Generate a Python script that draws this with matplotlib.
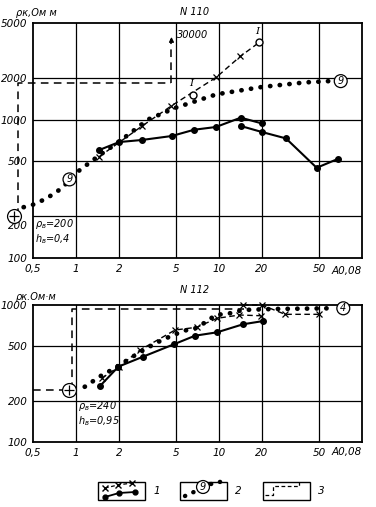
import matplotlib.pyplot as plt
from matplotlib.patches import Rectangle
from matplotlib.transforms import ScaledTranslation

W, H = 376, 507

# N 110
x_cross_110 = [1.45, 2.9, 4.65, 9.6, 14.1]
rho_cross_110 = [540, 900, 1260, 2030, 2870]
x_open_110 = [19.1, 6.6]
rho_open_110 = [3620, 1510]
x_solid_110a = [1.45, 2.0, 2.88, 4.67, 6.7, 9.5, 14.2, 19.9]
rho_solid_110a = [603, 689, 713, 762, 846, 885, 1034, 940]
x_solid_110b = [14.2, 19.9, 29.4, 48.2, 68.3]
rho_solid_110b = [900, 815, 732, 449, 522]
x_dot_110 = [0.43, 0.5, 0.62, 0.79, 1.04, 1.45, 2.0, 3.2, 5.0, 9.6, 20, 40, 63]
rho_dot_110 = [233, 243, 269, 318, 425, 551, 693, 1005, 1222, 1525, 1725, 1860, 1907]
x_step_110 = [0.39, 0.39, 4.65]
rho_step_110 = [200, 1850, 1850]
rho_arrow_110 = 4150

# N 112
x_solid_112 = [1.47, 1.98, 2.95, 4.84, 6.8, 9.7, 14.7, 20.4]
rho_solid_112 = [256, 355, 420, 517, 597, 632, 723, 764]
x_cross_112a = [1.51, 2.0, 2.8, 4.93, 7.0, 9.7, 13.9, 19.6]
rho_cross_112a = [292, 355, 469, 657, 688, 800, 845, 835]
x_cross_112b = [14.7, 19.9, 29, 50]
rho_cross_112b = [1000, 1000, 855, 855]
x_dot_112 = [1.15, 1.5, 1.82, 2.45, 3.04, 3.87, 4.79, 5.95, 7.0, 9.5, 11.9, 14.7, 23.9, 60]
rho_dot_112 = [253, 305, 341, 415, 477, 546, 604, 657, 680, 845, 870, 920, 935, 946]
x_step_112 = [0.5, 0.93, 0.93, 15]
rho_step_112 = [240, 240, 940, 940]

xticks = [0.5, 1, 2, 5, 10, 20, 50]
xlabels = ['0,5', '1', '2', '5', '10', '20', '50']

FS = 7.5
DASH = (0, (5, 3.5))
DOTS = (0, (0.05, 2.0))


def fx(px):
    return px / W


def fy(py):
    return 1 - py / H


def setup(ax, ymax, yticks):
    ax.set_xscale('log')
    ax.set_yscale('log')
    ax.set_xlim(0.5, 100)
    ax.set_ylim(100, ymax)
    ax.set_xticks(xticks)
    ax.set_xticklabels(xlabels, fontsize=FS, style='italic')
    ax.set_yticks(yticks)
    ax.set_yticklabels([str(v) for v in yticks], fontsize=FS, style='italic')
    ax.minorticks_off()
    ax.tick_params(length=0, pad=4)
    for v in xticks[1:]:
        ax.axvline(v, color='black', lw=0.9)
    for v in yticks[1:-1]:
        ax.axhline(v, color='black', lw=0.9)
    for s in ax.spines.values():
        s.set_linewidth(1.3)
    ax.text(1.0, -0.035, 'A0,08', transform=ax.transAxes, ha='right', va='top',
            fontsize=FS, style='italic')


def circ_label(ax, x, y, t):
    ax.text(x, y, t, ha='center', va='center', fontsize=7, style='italic',
            bbox=dict(boxstyle='circle,pad=0.15', fc='white', ec='black', lw=0.9),
            zorder=6, clip_on=False)


def plus_circle(ax, x, y):
    ax.plot([x], [y], 'o', ms=10, mfc='white', mec='black', mew=0.9,
            clip_on=False, zorder=6)
    ax.plot([x], [y], '+', ms=7, color='black', mew=0.9, clip_on=False, zorder=7)


fig = plt.figure(figsize=(W / 100, H / 100), dpi=100)

# ---- N 110
ax1 = fig.add_axes([fx(33), fy(258), fx(329), 235 / H])
setup(ax1, 5000, [100, 200, 500, 1000, 2000, 5000])
# the "200" label sits a little below its grid line
lab200 = ax1.get_yticklabels()[1]
lab200.set_transform(lab200.get_transform() + ScaledTranslation(0, -0.09, fig.dpi_scale_trans))
ax1.plot(x_step_110, rho_step_110, color='black', lw=1.1, ls=DASH, clip_on=False)
ax1.plot([x_step_110[-1]] * 2, [rho_step_110[-1], rho_arrow_110 * 0.93],
         color='black', lw=1.1, ls=DASH)
ax1.annotate('', xy=(x_step_110[-1], rho_arrow_110),
             xytext=(x_step_110[-1], rho_arrow_110 * 0.85),
             arrowprops=dict(arrowstyle='-|>', color='black', lw=0.9,
                             mutation_scale=7))
ax1.text(5.1, rho_arrow_110 * 0.98, '30000', fontsize=7, style='italic',
         ha='left', va='center')
ax1.plot(x_dot_110, rho_dot_110, color='black', lw=3.4, ls=DOTS,
         dash_capstyle='round', clip_on=False, zorder=4)
ax1.plot(x_cross_110 + [x_open_110[0]], rho_cross_110 + [rho_open_110[0]],
         color='black', lw=1.0, ls=(0, (4, 2.5)), zorder=3)
ax1.plot(x_cross_110, rho_cross_110, 'x', color='black', ms=4.5, mew=0.9, zorder=5)
ax1.plot(x_open_110, rho_open_110, 'o', ms=5, mfc='white', mec='black', mew=1.0, zorder=5)
for xo, yo in zip(x_open_110, rho_open_110):
    ax1.text(xo * 0.97, yo * 1.12, 'I', fontsize=7.5, style='italic',
             family='serif', ha='center', va='bottom')
ax1.plot(x_solid_110a, rho_solid_110a, '-o', color='black', lw=1.5, ms=4, zorder=5)
ax1.plot(x_solid_110b, rho_solid_110b, '-o', color='black', lw=1.5, ms=4, zorder=5)
circ_label(ax1, 0.9, 370, '9')
circ_label(ax1, 71, 1900, '9')
plus_circle(ax1, 0.37, 200)
ax1.text(0.52, 175, r'$\rho_в$=200', fontsize=7, style='italic', va='center')
ax1.text(0.52, 138, r'$h_в$=0,4', fontsize=7, style='italic', va='center')

# ---- N 112
ax2 = fig.add_axes([fx(33), fy(442), fx(329), 137 / H])
setup(ax2, 1000, [100, 200, 500, 1000])
ax2.plot(x_step_112, rho_step_112, color='black', lw=1.1, ls=DASH, zorder=2)
ax2.plot(x_dot_112, rho_dot_112, color='black', lw=3.4, ls=DOTS,
         dash_capstyle='round', zorder=4)
ax2.plot(x_cross_112a, rho_cross_112a, '--x', color='black', lw=1.0, ms=4.5,
         mew=0.9, dashes=(4, 2.5), zorder=5)
ax2.plot(x_cross_112b, rho_cross_112b, '--x', color='black', lw=1.0, ms=4.5,
         mew=0.9, dashes=(4, 2.5), zorder=5, clip_on=False)
ax2.plot(x_solid_112, rho_solid_112, '-o', color='black', lw=1.5, ms=4, zorder=5)
circ_label(ax2, 74, 946, '4')
plus_circle(ax2, 0.9, 240)
ax2.text(1.03, 182, r'$\rho_в$=240', fontsize=7, style='italic', va='center')
ax2.text(1.03, 142, r'$h_в$=0,95', fontsize=7, style='italic', va='center')

# ---- titles and axis names
fig.text(fx(16), fy(13), 'ρк,Ом м', fontsize=7, style='italic', va='center')
fig.text(fx(195), fy(12), 'N 110', fontsize=7, style='italic', ha='center', va='center')
fig.text(fx(16), fy(297), 'ρк.Ом·м', fontsize=7, style='italic', va='center')
fig.text(fx(195), fy(290), 'N 112', fontsize=7, style='italic', ha='center', va='center')

# ---- legend boxes
lg = fig.add_axes([0, 0, 1, 1])
lg.set_xlim(0, W)
lg.set_ylim(H, 0)
lg.axis('off')
for x0, lab in [(98, '1'), (180, '2'), (263, '3')]:
    lg.add_patch(Rectangle((x0, 482), 47, 18, fill=False, ec='black', lw=1.0))
    lg.text(x0 + 55, 491, lab, fontsize=7.5, style='italic', va='center')
lg.plot([105, 118, 132], [488, 485, 483], '--x', color='black', lw=0.9, ms=4,
        dashes=(3, 2))
lg.plot([105, 119, 135], [497, 493, 492], '-o', color='black', lw=1.3, ms=3.5)
lg.plot([185, 196], [496, 491], color='black', lw=3.2, ls=DOTS, dash_capstyle='round')
lg.plot([211, 224], [484, 481], color='black', lw=3.2, ls=DOTS, dash_capstyle='round')
lg.text(203, 487, '9', ha='center', va='center', fontsize=7, style='italic',
        bbox=dict(boxstyle='circle,pad=0.15', fc='white', ec='black', lw=0.9))
lg.plot([265, 273, 273, 299, 299], [495, 495, 486, 486, 480], color='black',
        lw=0.9, ls=(0, (3, 2)))

fig.savefig('out.png', dpi=100)
